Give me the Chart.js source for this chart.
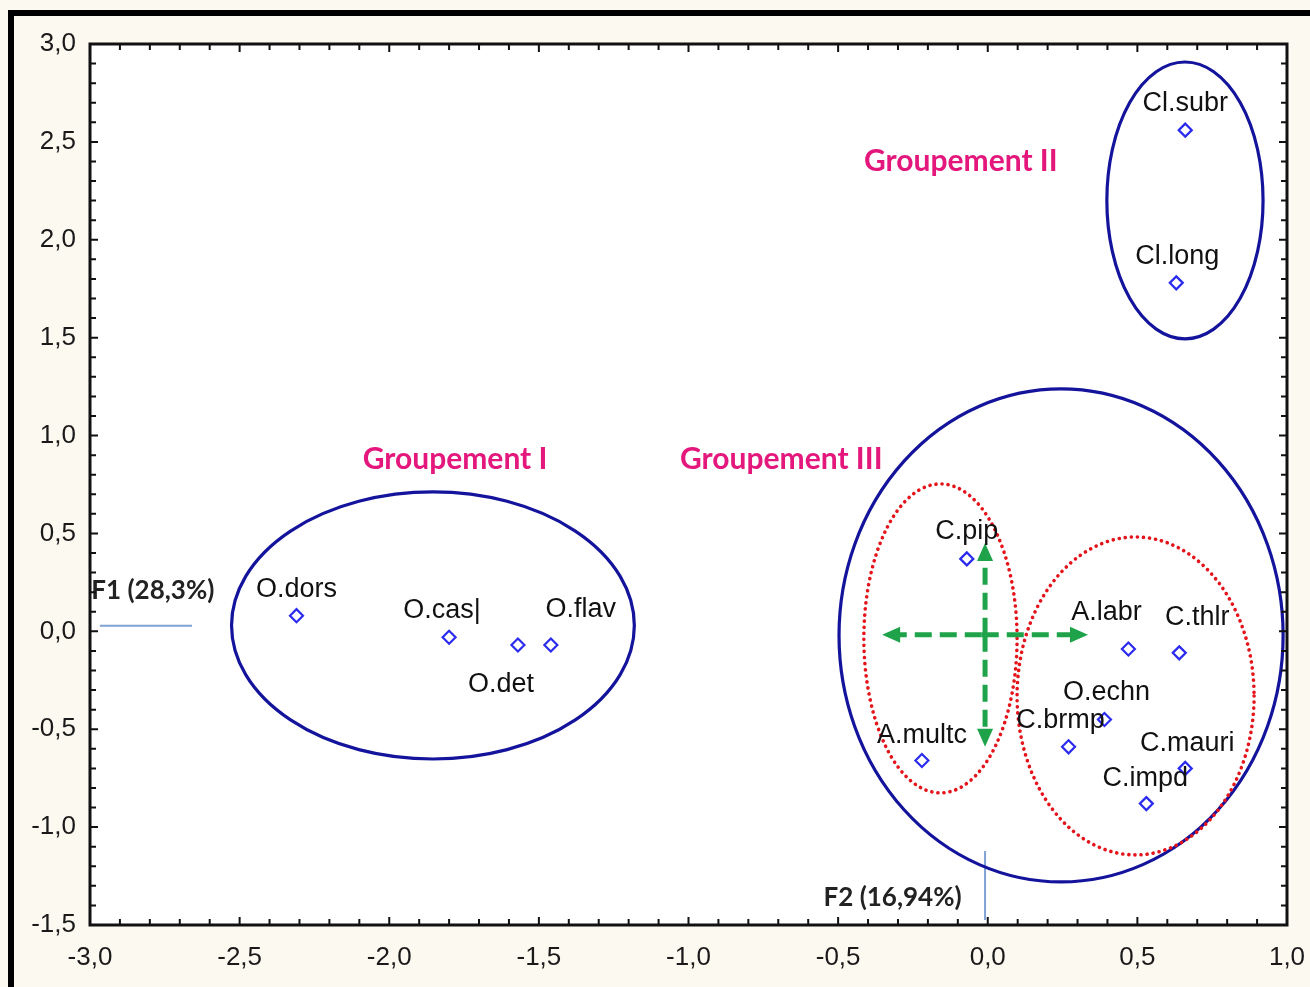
<!DOCTYPE html>
<html>
<head>
<meta charset="utf-8">
<script src="https://cdn.jsdelivr.net/npm/chart.js@4"></script>
<style>
  html, body { margin: 0; padding: 0; background: #fcf9f1; }
  #wrap { width: 1310px; height: 987px; }
</style>
</head>
<body>
<div id="wrap"><canvas id="acp" width="1310" height="987"></canvas></div>
<script>
// species coordinates on the F1 / F2 plane
const species = ["O.dors", "O.cas|", "O.det", "O.flav", "C.pip", "A.multc", "C.brmp", "O.echn",
                 "A.labr", "C.thlr", "C.mauri", "C.impd", "Cl.subr", "Cl.long"];
const f1 = [-2.31, -1.80, -1.57, -1.46, -0.07, -0.22, 0.27, 0.39, 0.47, 0.64, 0.66, 0.53, 0.66, 0.63];
const f2 = [0.08, -0.03, -0.07, -0.07, 0.37, -0.66, -0.59, -0.45, -0.09, -0.11, -0.70, -0.88, 2.56, 1.78];
// label offsets in px (dx, dy) from the marker
const labelDx = [0, -7, -17, 30, 0, 0, -8, 2, -22, 18, 2, -1, 0, 1];
const labelDy = [-26, -27, 40, -35, -27, -25, -26, -27, -36, -35, -25, -25, -27, -26];

const xTicks = [-3, -2.5, -2, -1.5, -1, -0.5, 0, 0.5, 1];
const yTicks = [-1.5, -1, -0.5, 0, 0.5, 1, 1.5, 2, 2.5, 3];

// groups: [cx, cy, rx, ry] in data units
const groupNames = ["Groupement I", "Groupement II", "Groupement III"];
const groupEllipses = [[-1.854, 0.03, 0.673, 0.682], [0.659, 2.201, 0.261, 0.707], [0.245, -0.021, 0.742, 1.259]];
const groupLabelAt = [[-1.78, 0.88], [-0.09, 2.40], [-0.69, 0.88]];
const subEllipses = [[-0.158, -0.036, 0.256, 0.789], [0.494, -0.33, 0.396, 0.812]];

// green arrows [x0, y0, x1, y1]
const arrows = [[-0.02, -0.018, -0.353, -0.018], [-0.02, -0.018, 0.335, -0.018],
                [-0.009, -0.018, -0.009, 0.451], [-0.009, -0.018, -0.009, -0.59]];

const fmt = v => Math.abs(v) < 1e-9 ? "0,0" : v.toFixed(1).replace(".", ",");

const extras = {
  id: "extras",
  beforeDraw(chart) {
    const c = chart.ctx, a = chart.chartArea;
    c.save();
    c.fillStyle = "#fcf9f1";
    c.fillRect(0, 0, chart.width, chart.height);
    c.fillStyle = "#000";
    c.fillRect(8, 10, chart.width - 8, 6);
    c.fillRect(8, 10, 6, chart.height - 10);
    c.fillStyle = "#ffffff";
    c.fillRect(a.left, a.top, a.right - a.left, a.bottom - a.top);
    c.restore();
  },
  beforeDatasetsDraw(chart) {
    const c = chart.ctx, xs = chart.scales.x, ys = chart.scales.y;
    const px = v => xs.getPixelForValue(v), py = v => ys.getPixelForValue(v);
    const ell = (e) => {
      c.beginPath();
      c.ellipse(px(e[0]), py(e[1]), Math.abs(px(e[0] + e[2]) - px(e[0])), Math.abs(py(e[1] + e[3]) - py(e[1])), 0, 0, Math.PI * 2);
      c.stroke();
    };
    c.save();
    // axis reference lines F1 / F2
    c.strokeStyle = "#7ea3d4";
    c.lineWidth = 2;
    c.beginPath();
    c.moveTo(px(-2.967), py(0.028)); c.lineTo(px(-2.659), py(0.028));
    c.moveTo(px(-0.009), py(-1.122)); c.lineTo(px(-0.009), py(-1.474));
    c.stroke();

    c.strokeStyle = "#13139c";
    c.lineWidth = 3.2;
    groupEllipses.forEach(ell);

    c.strokeStyle = "#e4141b";
    c.lineWidth = 3.6;
    c.lineCap = "round";
    c.setLineDash([0.1, 6]);
    subEllipses.forEach(ell);
    c.setLineDash([]);
    c.lineCap = "butt";

    // arrows
    c.strokeStyle = "#1fa34a";
    c.fillStyle = "#1fa34a";
    c.lineWidth = 5;
    arrows.forEach(ar => {
      const x0 = px(ar[0]), y0 = py(ar[1]), x1 = px(ar[2]), y1 = py(ar[3]);
      const ang = Math.atan2(y1 - y0, x1 - x0), head = 18;
      c.setLineDash([17, 8]);
      c.beginPath();
      c.moveTo(x0, y0);
      c.lineTo(x1 - Math.cos(ang) * head * 0.8, y1 - Math.sin(ang) * head * 0.8);
      c.stroke();
      c.setLineDash([]);
      c.beginPath();
      c.moveTo(x1, y1);
      c.lineTo(x1 - Math.cos(ang) * head + Math.sin(ang) * 8, y1 - Math.sin(ang) * head - Math.cos(ang) * 8);
      c.lineTo(x1 - Math.cos(ang) * head - Math.sin(ang) * 8, y1 - Math.sin(ang) * head + Math.cos(ang) * 8);
      c.closePath();
      c.fill();
    });

    // group titles
    c.fillStyle = "#e4177d";
    c.font = "bold 30px Lato";
    c.textAlign = "center";
    c.textBaseline = "middle";
    groupNames.forEach((g, i) => c.fillText(g, px(groupLabelAt[i][0]), py(groupLabelAt[i][1])));

    c.fillStyle = "#222";
    c.font = "bold 26px Lato";
    c.fillText("F1 (28,3%)", px(-2.79), py(0.21));
    c.fillText("F2 (16,94%)", px(-0.318), py(-1.36));
    c.restore();
  },
  afterDatasetsDraw(chart) {
    const c = chart.ctx, a = chart.chartArea;
    const meta = chart.getDatasetMeta(0);
    c.save();
    c.fillStyle = "#111";
    c.font = "27px 'Liberation Sans'";
    c.textAlign = "center";
    c.textBaseline = "middle";
    meta.data.forEach((p, i) => c.fillText(species[i], p.x + labelDx[i], p.y + labelDy[i]));

    // frame with inward ticks
    c.strokeStyle = "#111";
    c.lineWidth = 3;
    c.strokeRect(a.left, a.top, a.right - a.left, a.bottom - a.top);
    c.lineWidth = 2;
    const xs = chart.scales.x, ys = chart.scales.y;
    c.beginPath();
    for (let k = -30; k <= 10; k++) {
      const x = xs.getPixelForValue(k / 10), len = k % 5 === 0 ? 8 : 6;
      c.moveTo(x, a.bottom); c.lineTo(x, a.bottom - len);
      c.moveTo(x, a.top); c.lineTo(x, a.top + len);
    }
    for (let k = -15; k <= 30; k++) {
      const y = ys.getPixelForValue(k / 10), len = k % 5 === 0 ? 8 : 6;
      c.moveTo(a.left, y); c.lineTo(a.left + len, y);
      c.moveTo(a.right, y); c.lineTo(a.right - len, y);
    }
    c.stroke();
    c.restore();
  }
};

new Chart(document.getElementById("acp"), {
  type: "scatter",
  data: {
    datasets: [{
      data: species.map((s, i) => ({ x: f1[i], y: f2[i] })),
      pointStyle: "rectRot",
      pointRadius: 6.5,
      pointBorderWidth: 2.2,
      borderColor: "#2b2bef",
      backgroundColor: "rgba(255,255,255,0)"
    }]
  },
  options: {
    responsive: false,
    animation: false,
    layout: { padding: { top: 44, right: 23, left: 0, bottom: 0 } },
    plugins: { legend: { display: false }, tooltip: { enabled: false } },
    scales: {
      x: {
        min: -3, max: 1,
        afterBuildTicks: s => { s.ticks = xTicks.map(v => ({ value: v })); },
        afterFit: s => { s.height = 62; s.paddingLeft = 0; s.paddingRight = 0; },
        grid: { display: false, drawTicks: false },
        border: { display: false },
        ticks: { callback: fmt, padding: 17, color: "#1a1a1a", font: { family: "Liberation Sans", size: 26 }, maxRotation: 0 }
      },
      y: {
        min: -1.5, max: 3,
        afterBuildTicks: s => { s.ticks = yTicks.map(v => ({ value: v })); },
        afterFit: s => { s.width = 90; s.paddingTop = 0; s.paddingBottom = 0; },
        grid: { display: false, drawTicks: false },
        border: { display: false },
        ticks: { callback: fmt, padding: 14, color: "#1a1a1a", font: { family: "Liberation Sans", size: 26 } }
      }
    }
  },
  plugins: [extras]
});
</script>
</body>
</html>
